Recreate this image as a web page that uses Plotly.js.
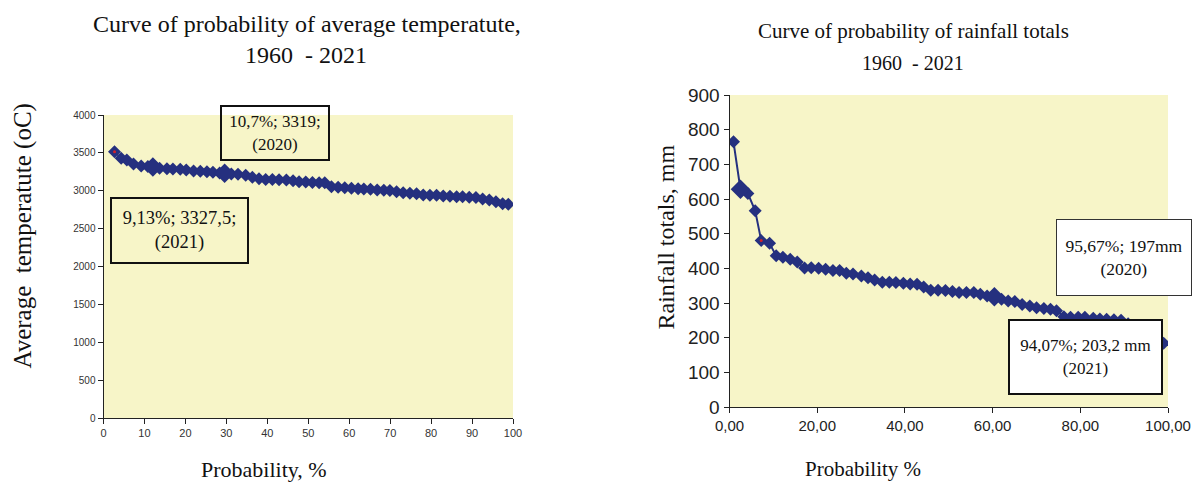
<!DOCTYPE html>
<html>
<head>
<meta charset="utf-8">
<script src="https://cdn.plot.ly/plotly-3.0.1.min.js"></script>
<style>html,body{margin:0;padding:0;background:#fff;}#chart{width:1195px;height:483px;}</style>
</head>
<body>
<div id="chart"></div>
<script>
// ---- Data ----
// Left: probability (%) vs accumulated/average temperature
const tempProb = [2.69,4.32,5.70,7.33,9.21,10.84,12.06,13.69,15.49,16.95,18.74,20.21,22.0,23.64,25.26,26.73,28.36,29.58,31.21,32.84,34.72,36.35,37.98,39.61,41.24,42.87,44.66,46.29,47.76,49.39,51.02,52.65,54.03,55.66,57.29,58.92,60.55,62.18,63.57,65.2,66.83,68.46,69.93,71.56,73.19,74.82,76.45,78.08,79.71,81.34,82.97,84.6,86.23,87.69,89.32,90.95,92.58,94.21,95.84,97.47,98.86];
const tempVal = [3516,3428,3406,3353,3327,3319,3312,3296,3291,3287,3283,3274,3261,3256,3252,3243,3235,3230,3221,3218,3204,3177,3160,3150,3148,3145,3142,3133,3120,3116,3110,3107,3105,3054,3045,3041,3032,3025,3023,3020,3010,3006,3004,2988,2975,2966,2962,2944,2942,2940,2931,2926,2922,2920,2913,2911,2891,2878,2856,2830,2822];
const tempBigIdx = [6,17];
const tempRedIdx = [0];

// Right: probability (%) vs rainfall totals (mm)
const rainProb = [0.91,2.5,4.19,5.86,7.23,9.13,10.65,12.18,13.85,15.45,17.12,18.65,20.32,21.92,23.59,25.11,26.64,28.16,30.07,31.58,33.1,34.85,36.45,37.95,39.65,41.2,42.77,44.29,45.89,47.56,49.24,50.84,52.35,54.03,55.71,57.2,58.75,60.4,62.03,63.55,65.07,66.74,68.49,70.02,71.69,73.21,74.58,76.26,77.78,79.52,81.05,82.95,84.47,86.0,87.67,89.3,90.9,92.5,94.07,95.67,97.3,99.0];
const rainVal = [765,628,616,566,480,472,436,432,426,418,401,402,400,397,394,394,386,384,378,373,366,360,360,359,357,355,354,346,337,337,336,333,330,330,330,325,320,318,311,306,304,296,291,286,284,282,278,260,259,259,259,256,254,253,252,250,240,215,203.2,197,190,184];
const rainBigIdx = [1,37];
const rainRedIdx = [4];

const leftXTicks = [0,10,20,30,40,50,60,70,80,90,100];
const leftYTicks = [0,500,1000,1500,2000,2500,3000,3500,4000];
const rightXTicks = [0,20,40,60,80,100];
const rightYTicks = [0,100,200,300,400,500,600,700,800,900];

// ---- Layout helpers ----
const W = 1195, H = 483;
const px = x => x / W;
const py = y => 1 - y / H;
const NAVY = '#25307f';
const SERIF = 'Liberation Serif, Times New Roman, serif';
const SANS = 'Liberation Sans, Arial, sans-serif';
const pick = (arr, idx) => idx.map(i => arr[i]);

const traces = [
  {x: tempProb, y: tempVal, xaxis: 'x', yaxis: 'y', mode: 'lines+markers',
   line: {color: NAVY, width: 1.5}, marker: {symbol: 'diamond', size: 10, color: NAVY}},
  {x: pick(tempProb, tempBigIdx), y: pick(tempVal, tempBigIdx), xaxis: 'x', yaxis: 'y', mode: 'markers',
   marker: {symbol: 'diamond', size: 15, color: NAVY}},
  {x: pick(tempProb, tempRedIdx), y: pick(tempVal, tempRedIdx), xaxis: 'x', yaxis: 'y', mode: 'markers',
   marker: {symbol: 'circle', size: 3, color: '#d0202a'}},
  {x: rainProb, y: rainVal, xaxis: 'x2', yaxis: 'y2', mode: 'lines+markers',
   line: {color: NAVY, width: 2}, marker: {symbol: 'diamond', size: 10, color: NAVY}},
  {x: pick(rainProb, rainBigIdx), y: pick(rainVal, rainBigIdx), xaxis: 'x2', yaxis: 'y2', mode: 'markers',
   marker: {symbol: 'diamond', size: 15, color: NAVY}},
  {x: pick(rainProb, rainRedIdx), y: pick(rainVal, rainRedIdx), xaxis: 'x2', yaxis: 'y2', mode: 'markers',
   marker: {symbol: 'circle', size: 3, color: '#d0202a'}}
];

const axBase = {showgrid: false, zeroline: false, showline: true, linecolor: '#222', linewidth: 1,
  ticks: 'outside', ticklen: 5, tickcolor: '#222', tickwidth: 1, fixedrange: true};

function ann(text, x, y, size, extra) {
  return Object.assign({text: text, xref: 'paper', yref: 'paper', x: px(x), y: py(y),
    xanchor: 'center', yanchor: 'middle', showarrow: false,
    font: {family: SERIF, size: size, color: '#111'}}, extra || {});
}
function box(text, l, t, r, b, size, bw, bg, bc) {
  return ann(text, (l + r) / 2, (t + b) / 2, size, {
    width: (r - l) - 2 * bw, height: (b - t) - 2 * bw, borderpad: 0,
    borderwidth: bw, bordercolor: bc, bgcolor: bg, align: 'center', valign: 'middle'});
}

const layout = {
  width: W, height: H, margin: {l: 0, r: 0, t: 0, b: 0},
  paper_bgcolor: '#ffffff', plot_bgcolor: '#f7f5c8', showlegend: false,
  separators: ', ',
  xaxis: Object.assign({}, axBase, {domain: [px(103.5), px(513)], range: [0, 100], tickvals: leftXTicks,
    anchor: 'y', tickfont: {family: SANS, size: 11, color: '#333'}}),
  yaxis: Object.assign({}, axBase, {domain: [py(418), py(115)], range: [0, 4000], tickvals: leftYTicks,
    tickformat: 'd', anchor: 'x', tickfont: {family: SANS, size: 10, color: '#333'}}),
  xaxis2: Object.assign({}, axBase, {domain: [px(729.5), px(1168)], range: [0, 100], tickvals: rightXTicks,
    tickformat: '.2f', anchor: 'y2', tickfont: {family: SANS, size: 15, color: '#222'}}),
  yaxis2: Object.assign({}, axBase, {domain: [py(407), py(95)], range: [0, 900], tickvals: rightYTicks,
    tickformat: 'd', anchor: 'x2', tickfont: {family: SANS, size: 19, color: '#222'}}),
  annotations: [
    ann('Curve of probability of average temperatute,', 307, 24, 24),
    ann('1960  - 2021', 306, 55, 24),
    ann('Curve of probability of rainfall totals', 913, 31, 21),
    ann('1960  - 2021', 913, 63, 20),
    ann('Average  temperatute (oC)', 22, 236.5, 25, {textangle: -90}),
    ann('Rainfall totals, mm', 665, 237.5, 24, {textangle: -90}),
    ann('Probability, %', 264, 469, 22),
    ann('Probability %', 863, 469, 21),
    box('10,7%; 3319;<br>(2020)', 220, 105, 330, 161, 17, 2, 'rgba(0,0,0,0)', '#111'),
    box('9,13%; 3327,5;<br>(2021)', 110, 197, 249, 264, 18.5, 2, 'rgba(0,0,0,0)', '#111'),
    box('95,67%; 197mm<br>(2020)', 1056, 219, 1192, 296, 17.5, 1, '#ffffff', '#333'),
    box('94,07%; 203,2 mm<br>(2021)', 1008, 319, 1163, 395, 17, 2, '#ffffff', '#111')
  ]
};

Plotly.newPlot('chart', traces, layout, {displayModeBar: false, staticPlot: true});
</script>
</body>
</html>
